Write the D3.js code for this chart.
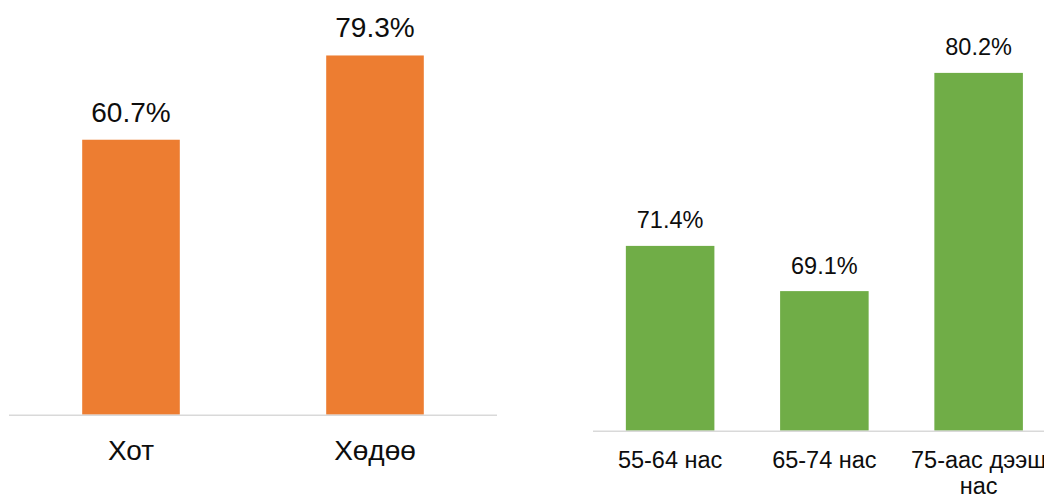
<!DOCTYPE html>
<html>
<head>
<meta charset="utf-8">
<script src="https://cdn.jsdelivr.net/npm/d3@7"></script>
<style>
  html, body { margin: 0; padding: 0; background: #fff; }
  svg { display: block; font-family: "Liberation Sans", Arial, sans-serif; }
</style>
</head>
<body>
<svg id="chart" width="1044" height="495"></svg>
<script>
// ---- data ----
const locCategories = ["Хот", "Хөдөө"];
const locValues = [60.7, 79.3];
const ageCategories = ["55-64 нас", "65-74 нас", "75-аас дээш нас"];
const ageValues = [71.4, 69.1, 80.2];

const svg = d3.select("#chart");
const fmt = v => v.toFixed(1) + "%";

function wrap(textSel, width) {
  textSel.each(function () {
    const text = d3.select(this);
    const words = text.text().split(/\s+/);
    const x = text.attr("x"), y = text.attr("y"), lh = +text.attr("data-lh");
    text.text(null);
    let line = [], lineNo = 0;
    let tspan = text.append("tspan").attr("x", x).attr("y", y);
    for (const w of words) {
      line.push(w);
      tspan.text(line.join(" "));
      if (tspan.node().getComputedTextLength() > width && line.length > 1) {
        line.pop();
        tspan.text(line.join(" "));
        line = [w];
        lineNo++;
        tspan = text.append("tspan").attr("x", x).attr("y", +y + lineNo * lh).text(w);
      }
    }
  });
}

function panel(opts) {
  const x = d3.scaleBand().domain(opts.categories).range(opts.xRange)
    .paddingInner(opts.padIn).paddingOuter(opts.padOut);
  const y = d3.scaleLinear().domain(opts.yDomain).range(opts.yRange);
  const g = svg.append("g");
  const base = opts.yRange[0];

  g.selectAll("rect").data(opts.values).join("rect")
    .attr("x", (d, i) => x(opts.categories[i]))
    .attr("width", x.bandwidth())
    .attr("y", d => y(d))
    .attr("height", d => base - y(d))
    .attr("fill", opts.color);

  g.append("line")
    .attr("x1", opts.xRange[0]).attr("x2", opts.xRange[1])
    .attr("y1", base + 0.5).attr("y2", base + 0.5)
    .attr("stroke", "#d9d9d9").attr("stroke-width", 1.5);

  g.selectAll("text.val").data(opts.values).join("text")
    .attr("class", "val")
    .attr("x", (d, i) => x(opts.categories[i]) + x.bandwidth() / 2)
    .attr("y", d => y(d) - opts.valGap)
    .attr("text-anchor", "middle")
    .attr("font-size", opts.fontSize)
    .attr("fill", "#0d0d0d")
    .text(fmt);

  g.selectAll("text.cat").data(opts.categories).join("text")
    .attr("class", "cat")
    .attr("x", d => x(d) + x.bandwidth() / 2)
    .attr("y", opts.catY)
    .attr("data-lh", opts.lineH)
    .attr("text-anchor", "middle")
    .attr("font-size", opts.fontSize)
    .attr("fill", "#0d0d0d")
    .text(d => d)
    .call(wrap, x.step());
}

panel({
  categories: locCategories, values: locValues, color: "#ED7D31",
  xRange: [9, 497], padIn: 0.6, padOut: 0.3,
  yDomain: [0, 90], yRange: [414.7, 7],
  fontSize: 28, valGap: 18, catY: 460, lineH: 32
});

panel({
  categories: ageCategories, values: ageValues, color: "#70AD47",
  xRange: [593, 1055.75], padIn: 0.426, padOut: 0.213,
  yDomain: [62, 82], yRange: [430.7, 37.5],
  fontSize: 23.5, valGap: 17.5, catY: 468, lineH: 26
});
</script>
</body>
</html>
